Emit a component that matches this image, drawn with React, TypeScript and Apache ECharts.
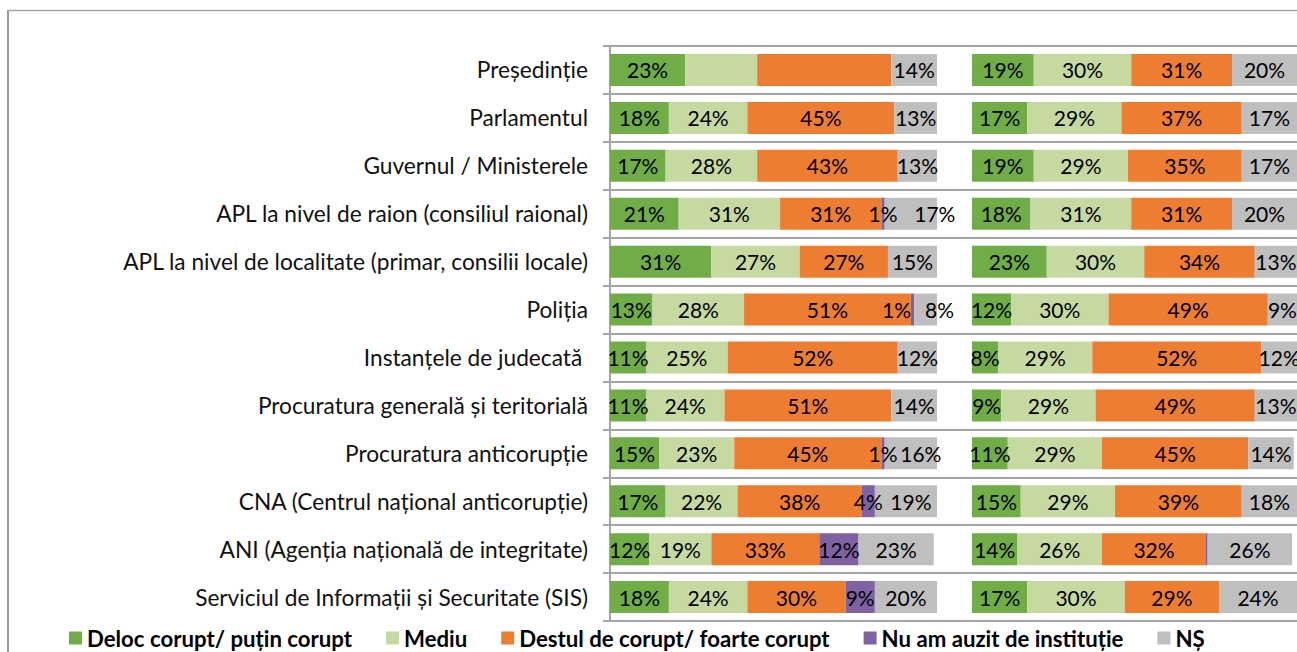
import React, { useEffect, useRef } from "react";
import * as echarts from "echarts";

const categories = [
  "Președinție",
  "Parlamentul",
  "Guvernul / Ministerele",
  "APL la nivel de raion (consiliul raional)",
  "APL la nivel de localitate (primar, consilii locale)",
  "Poliția",
  "Instanțele de judecată ",
  "Procuratura generală și teritorială",
  "Procuratura anticorupție",
  "CNA (Centrul național anticorupție)",
  "ANI (Agenția națională de integritate)",
  "Serviciul de Informații și Securitate (SIS)",
];

const seriesNames = [
  "Deloc corupt/ puțin corupt",
  "Mediu",
  "Destul de corupt/ foarte corupt",
  "Nu am auzit de instituție",
  "NȘ",
];

const seriesColors = ["#70AD47", "#C5D9A0", "#ED7D31", "#7F62A2", "#BFBFBF"];

// Left panel
const leftDeloc = [23, 18, 17, 21, 31, 13, 11, 11, 15, 17, 12, 18];
const leftMediu = [22, 24, 28, 31, 27, 28, 25, 24, 23, 22, 19, 24];
const leftDestul = [41, 45, 43, 31, 27, 51, 52, 51, 45, 38, 33, 30];
const leftNuAm = [0, 0, 0, 1, 0, 1, 0, 0, 1, 4, 12, 9];
const leftNS = [14, 13, 13, 17, 15, 8, 12, 14, 16, 19, 23, 20];
// labels not shown in the original: [row, seriesIndex]
const leftHiddenLabels = [
  [0, 1],
  [0, 2],
];

// Right panel
const rightDeloc = [19, 17, 19, 18, 23, 12, 8, 9, 11, 15, 14, 17];
const rightMediu = [30, 29, 29, 31, 30, 30, 29, 29, 29, 29, 26, 30];
const rightDestul = [31, 37, 35, 31, 34, 49, 52, 49, 45, 39, 32, 29];
const rightNuAm = [0, 0, 0, 0, 0, 0, 0, 0, 0, 0, 0.5, 0];
const rightNS = [20, 17, 17, 20, 13, 9, 12, 13, 14, 18, 26, 24];

const FONT = "Lato";

// manual label nudges seen in the original: [row, seriesIndex, dx]
const leftLabelNudges = [
  [3, 4, 24],
  [5, 3, -16],
  [5, 4, 14],
  [8, 4, 10],
  [9, 4, 5],
];

export default function App() {
  const ref = useRef<HTMLDivElement>(null);

  useEffect(() => {
    if (!ref.current) return;
    const chart = echarts.init(ref.current, null, { renderer: "svg" });

    const leftData = [leftDeloc, leftMediu, leftDestul, leftNuAm, leftNS];
    const rightData = [rightDeloc, rightMediu, rightDestul, rightNuAm, rightNS];

    const label = {
      show: true,
      position: "inside",
      color: "#000",
      fontFamily: FONT,
      fontSize: 21,
      formatter: (p: any) => (p.value >= 1 ? Math.round(p.value) + "%" : ""),
    };

    const top = 46;
    const height = 575;

    const makeSeries = (
      data: number[][],
      gridIdx: number,
      hidden: number[][],
      nudges: number[][]
    ) =>
      data.map((vals, si) => ({
        name: seriesNames[si],
        type: "bar",
        stack: "s" + gridIdx,
        xAxisIndex: gridIdx,
        yAxisIndex: gridIdx,
        barWidth: 32,
        itemStyle: { color: seriesColors[si] },
        label,
        data: vals.map((v, ri) => {
          if (hidden.some((h) => h[0] === ri && h[1] === si))
            return { value: v, label: { show: false } };
          const n = nudges.find((h) => h[0] === ri && h[1] === si);
          if (n) return { value: v, label: { offset: [n[2], 0] } };
          return v;
        }),
      }));

    chart.setOption({
      animation: false,
      backgroundColor: "#fff",
      legend: {
        left: 64,
        top: 622,
        icon: "rect",
        itemWidth: 13,
        itemHeight: 13,
        itemGap: 34,
        textStyle: {
          fontFamily: FONT,
          fontWeight: "bold",
          fontSize: 22.2,
          lineHeight: 22,
          color: "#000",
        },
        data: seriesNames,
      },
      grid: [
        { left: 610, width: 327, top, height },
        { left: 972, width: 327, top, height },
        { left: 603, right: 0, top, height },
      ],
      xAxis: [
        { type: "value", gridIndex: 0, min: 0, max: 100, show: false },
        { type: "value", gridIndex: 1, min: 0, max: 100, show: false },
        { type: "value", gridIndex: 2, min: 0, max: 100, show: false },
      ],
      yAxis: [
        {
          type: "category",
          gridIndex: 0,
          inverse: true,
          data: categories,
          axisLine: { show: true, lineStyle: { color: "#A6A6A6", width: 2 } },
          axisTick: { show: false },
          axisLabel: {
            fontFamily: FONT,
            fontSize: 22.7,
            color: "#111",
            margin: 22,
          },
        },
        {
          type: "category",
          gridIndex: 1,
          inverse: true,
          data: categories,
          show: false,
        },
        {
          type: "category",
          gridIndex: 2,
          inverse: true,
          data: categories,
          axisLine: { show: false },
          axisTick: { show: false },
          axisLabel: { show: false },
          splitLine: { show: true, lineStyle: { color: "#A6A6A6", width: 2 } },
        },
      ],
      series: [
        ...makeSeries(leftData, 0, leftHiddenLabels, leftLabelNudges),
        ...makeSeries(rightData, 1, [], []),
      ],
      graphic: [
        {
          type: "line",
          shape: { x1: 8, y1: 10, x2: 8, y2: 652 },
          style: { stroke: "#999", lineWidth: 2 },
        },
        {
          type: "line",
          shape: { x1: 8, y1: 10.5, x2: 1297, y2: 10.5 },
          style: { stroke: "#A6A6A6", lineWidth: 1.5 },
        },
      ],
    });

    return () => chart.dispose();
  }, []);

  return (
    <div
      ref={ref}
      style={{
        position: "fixed",
        left: 0,
        top: 0,
        width: 1297,
        height: 652,
        background: "#fff",
      }}
    />
  );
}
